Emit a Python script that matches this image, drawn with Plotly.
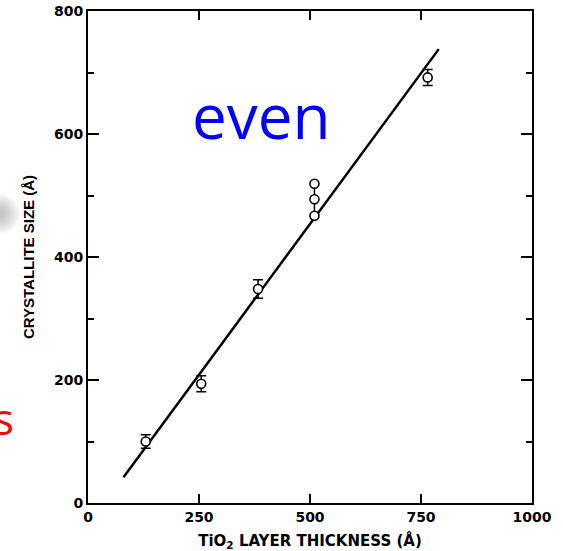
import plotly.graph_objects as go

# Measured crystallite size versus TiO2 layer thickness (both in Angstrom)
thickness = [130, 255, 383, 765]
crystallite = [100, 194, 348, 692]
crystallite_err = [11, 13, 15, 13]

# Three repeat samples at ~510 A thickness, joined by a vertical bar
repeat_thickness = [510, 510, 510]
repeat_crystallite = [467, 494, 519]

# Linear fit drawn through the data
fit_thickness = [80, 790]
fit_crystallite = [42, 738]

x_ticks = [0, 250, 500, 750, 1000]
y_ticks = [0, 200, 400, 600, 800]

tick_font = dict(family="DejaVu Sans", size=14, color="black", weight="bold")

fig = go.Figure()

fig.add_trace(go.Scatter(
    x=fit_thickness, y=fit_crystallite, mode="lines",
    line=dict(color="black", width=2.5), hoverinfo="skip", showlegend=False,
))

fig.add_trace(go.Scatter(
    x=repeat_thickness, y=repeat_crystallite, mode="lines+markers",
    line=dict(color="black", width=1.5),
    marker=dict(symbol="circle", size=9, color="white",
                line=dict(color="black", width=1.6)),
    showlegend=False,
))

fig.add_trace(go.Scatter(
    x=thickness, y=crystallite, mode="markers",
    error_y=dict(type="data", array=crystallite_err, visible=True,
                 color="black", thickness=1.5, width=5),
    marker=dict(symbol="circle", size=9, color="white",
                line=dict(color="black", width=1.6)),
    showlegend=False,
))

axis_common = dict(
    showline=True, linecolor="black", linewidth=2, mirror="ticks",
    ticks="inside", tickcolor="black", tickwidth=2,
    showgrid=False, zeroline=False, tickfont=tick_font, automargin=False,
)

fig.update_xaxes(
    range=[0, 1000], tickvals=x_ticks, ticklen=9,
    title=dict(text="TiO<sub>2</sub> LAYER THICKNESS (Å)",
               font=dict(family="DejaVu Sans", size=15, color="black", weight="bold"),
               standoff=12),
    **axis_common,
)
fig.update_yaxes(
    range=[0, 800], tickvals=y_ticks, ticklen=11,
    minor=dict(dtick=100, ticks="inside", ticklen=6, tickcolor="black", tickwidth=2),
    title=dict(text="CRYSTALLITE SIZE (Å)",
               font=dict(family="Liberation Sans", size=15, color="black", weight="bold"),
               standoff=16),
    **axis_common,
)

# Soft grey smudge at the left edge, built from many faint discs
smudge = []
cx, cy = 0, 214
for i in range(10):
    r = 20 - 1.8 * i
    smudge.append(dict(
        type="circle", xref="paper", yref="paper",
        x0=(cx - r - 88) / 444, x1=(cx + r - 88) / 444,
        y0=(503 - cy - r) / 492, y1=(503 - cy + r) / 492,
        fillcolor="#8a8a8a", opacity=0.06, line=dict(width=0), layer="below",
    ))

fig.update_layout(
    width=563, height=551,
    margin=dict(l=88, r=31, t=11, b=48),
    paper_bgcolor="white", plot_bgcolor="white",
    shapes=smudge,
    annotations=[
        dict(text="even", xref="paper", yref="paper",
             x=(261 - 88) / 444, y=(503 - 115) / 492,
             xanchor="center", yanchor="middle", showarrow=False,
             font=dict(family="Open Sans", size=62, color="#0000ff")),
        dict(text="s", xref="paper", yref="paper",
             x=(16 - 88) / 444, y=(503 - 418) / 492,
             xanchor="right", yanchor="middle", showarrow=False,
             font=dict(family="Open Sans", size=44, color="#ff0000")),
    ],
)

fig.write_html("out.html")
